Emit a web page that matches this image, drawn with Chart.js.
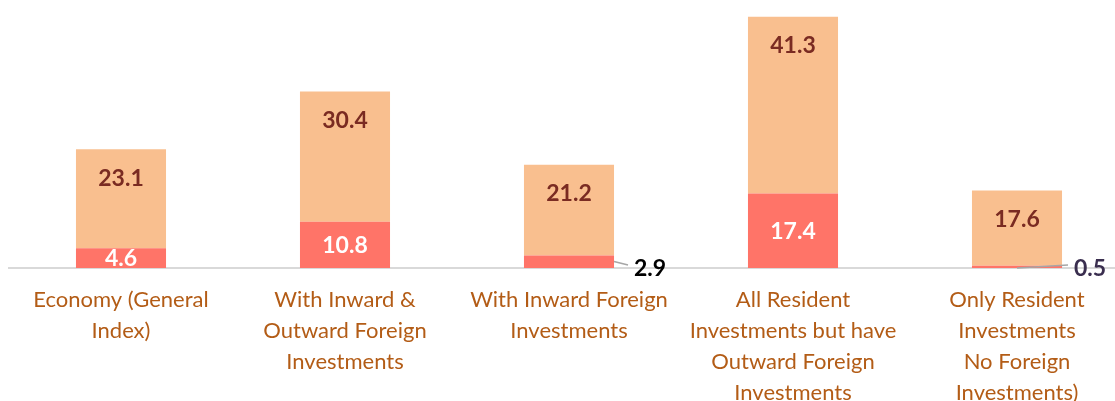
<!DOCTYPE html>
<html>
<head>
<meta charset="utf-8">
<script src="https://cdn.jsdelivr.net/npm/chart.js@4"></script>
<style>
  html, body { margin: 0; padding: 0; background: #fff; overflow: hidden; }
  #wrap { position: relative; width: 1129px; height: 424px; }
</style>
</head>
<body>
<div id="wrap"><canvas id="investChart"></canvas></div>
<script>
// Categories (already wrapped the way the reference shows them)
const categories = [
  ['Economy (General', 'Index)'],
  ['With Inward &', 'Outward Foreign', 'Investments'],
  ['With Inward Foreign', 'Investments'],
  ['All Resident', 'Investments but have', 'Outward Foreign', 'Investments'],
  ['Only Resident', 'Investments', 'No Foreign', 'Investments)']
];

// Lower (red) segment and upper (orange) segment
const lowerValues = [4.6, 10.8, 2.9, 17.4, 0.5];
const upperValues = [23.1, 30.4, 21.2, 41.3, 17.6];

const valueFont = 'bold 23px Lato, "Open Sans", sans-serif';

/**
 * Draws the value labels on the bars, with leader lines for tiny segments
 */
const barLabels = {
  id: 'barLabels',
  afterDatasetsDraw(chart) {
    const ctx = chart.ctx;
    ctx.save();
    ctx.font = valueFont;
    ctx.textBaseline = 'middle';

    // red segments
    chart.getDatasetMeta(0).data.forEach((bar, i) => {
      const v = lowerValues[i];
      const half = bar.width / 2;
      if (bar.base - bar.y > 18) {
        ctx.fillStyle = '#FFFFFF';
        ctx.textAlign = 'center';
        ctx.fillText(v.toFixed(1), bar.x, (bar.y + bar.base) / 2 + 1);
      } else {
        const startX = v < 1 ? bar.x : bar.x + half;
        const startY = v < 1 ? bar.base : bar.y + 6;
        const endX = bar.x + half + (v < 1 ? 6 : 14);
        ctx.strokeStyle = '#A6A6A6';
        ctx.lineWidth = 1.5;
        ctx.beginPath();
        ctx.moveTo(startX, startY);
        ctx.lineTo(endX, bar.base - 3);
        ctx.stroke();
        ctx.fillStyle = v < 1 ? '#3A2E4F' : '#000000';
        ctx.textAlign = 'left';
        ctx.fillText(v.toFixed(1), endX + 6, bar.base + 1);
      }
    });

    // orange segments
    chart.getDatasetMeta(1).data.forEach((bar, i) => {
      ctx.fillStyle = '#7A2B22';
      ctx.textAlign = 'center';
      ctx.fillText(upperValues[i].toFixed(1), bar.x, bar.y + 29);
    });
    ctx.restore();
  }
};

new Chart(document.getElementById('investChart'), {
  type: 'bar',
  data: {
    labels: categories,
    datasets: [
      {
        label: 'Lower',
        data: lowerValues,
        backgroundColor: '#FF7468',
        borderWidth: 0,
        categoryPercentage: 1,
        barPercentage: 0.402
      },
      {
        label: 'Upper',
        data: upperValues,
        backgroundColor: '#F9BF8F',
        borderWidth: 0,
        categoryPercentage: 1,
        barPercentage: 0.402
      }
    ]
  },
  options: {
    responsive: true,
    maintainAspectRatio: false,
    animation: false,
    layout: { padding: { left: 9, right: 0, top: 0, bottom: 0 } },
    plugins: {
      legend: { display: false },
      tooltip: { enabled: false }
    },
    scales: {
      x: {
        stacked: true,
        grid: { display: false, drawTicks: false },
        border: { display: true, color: '#D9D9D9', width: 2 },
        ticks: {
          color: '#B35C16',
          padding: 16,
          maxRotation: 0,
          autoSkip: false,
          font: {
            family: 'Lato, "Open Sans", sans-serif',
            size: 22,
            lineHeight: 1.41
          }
        }
      },
      y: {
        stacked: true,
        display: false,
        min: 0,
        max: 62.6
      }
    }
  },
  plugins: [barLabels]
});
</script>
</body>
</html>
